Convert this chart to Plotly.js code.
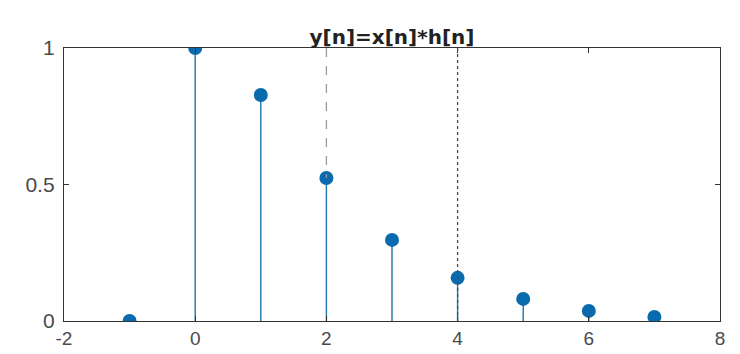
<!DOCTYPE html>
<html>
<head>
<meta charset="utf-8">
<script src="https://cdn.plot.ly/plotly-3.0.1.min.js"></script>
<style>html,body{margin:0;padding:0;background:#fff;}</style>
</head>
<body>
<div id="chart" style="width:740px;height:354px;"></div>
<script>
const n = [-1, 0, 1, 2, 3, 4, 5, 6, 7];
const yVals = [0, 1, 0.828, 0.524, 0.297, 0.158, 0.081, 0.037, 0.015];
const xTicks = [-2, 0, 2, 4, 6, 8];
const yTicks = [0, 0.5, 1];
const yTickLabels = ['0', '0.5', '1'];
const cursorX = [2, 4];
const cursorDash = ['dash', 'dot'];
const cursorColor = ['#9a9a9a', '#4a4a4a'];

const stemX = [], stemY = [];
n.forEach((v, i) => { stemX.push(v, v, null); stemY.push(0, yVals[i], null); });

const traces = [
  {x: stemX, y: stemY, mode: 'lines', type: 'scatter', line: {color: '#1f77a8', width: 1.4}, hoverinfo: 'skip', showlegend: false},
  {x: n, y: yVals, mode: 'markers', type: 'scatter', marker: {color: '#0a6aae', size: 14}, showlegend: false}
];

const shapes = cursorX.map((cx, i) => {
  const idx = n.indexOf(cx);
  return {type: 'line', xref: 'x', yref: 'y', x0: cx, x1: cx, y0: 1, y1: i === 0 ? yVals[idx] : 0,
          line: {color: cursorColor[i], width: 1.3, dash: cursorDash[i]}, layer: 'above'};
});

const axisCommon = {
  showline: true, linecolor: '#333333', linewidth: 1.2, mirror: 'ticks',
  ticks: 'inside', ticklen: 5, tickcolor: '#333333', tickwidth: 1,
  showgrid: false, zeroline: false,
  tickfont: {family: 'Liberation Sans, Arial, sans-serif', size: 21, color: '#4a4a4a'}
};

const layout = {
  width: 740, height: 354,
  margin: {l: 64, r: 20, t: 48, b: 33},
  paper_bgcolor: '#ffffff', plot_bgcolor: '#ffffff',
  title: {text: 'y[n]=x[n]*h[n]', xref: 'paper', x: 0.5, xanchor: 'center', yref: 'container', y: 1 - 37/354, yanchor: 'middle',
          font: {family: 'DejaVu Sans, sans-serif', size: 20, color: '#222222', weight: 'bold'}},
  xaxis: Object.assign({}, axisCommon, {range: [-2, 8], tickvals: xTicks, ticktext: xTicks.map(String), ticklabelstandoff: 0,
          tickfont: {family: 'Liberation Sans, Arial, sans-serif', size: 19, color: '#4a4a4a'}}),
  yaxis: Object.assign({}, axisCommon, {range: [0, 1], tickvals: yTicks, ticktext: yTickLabels, ticklabelstandoff: 4}),
  shapes: shapes
};

Plotly.newPlot('chart', traces, layout, {displayModeBar: false, staticPlot: true});
</script>
</body>
</html>
